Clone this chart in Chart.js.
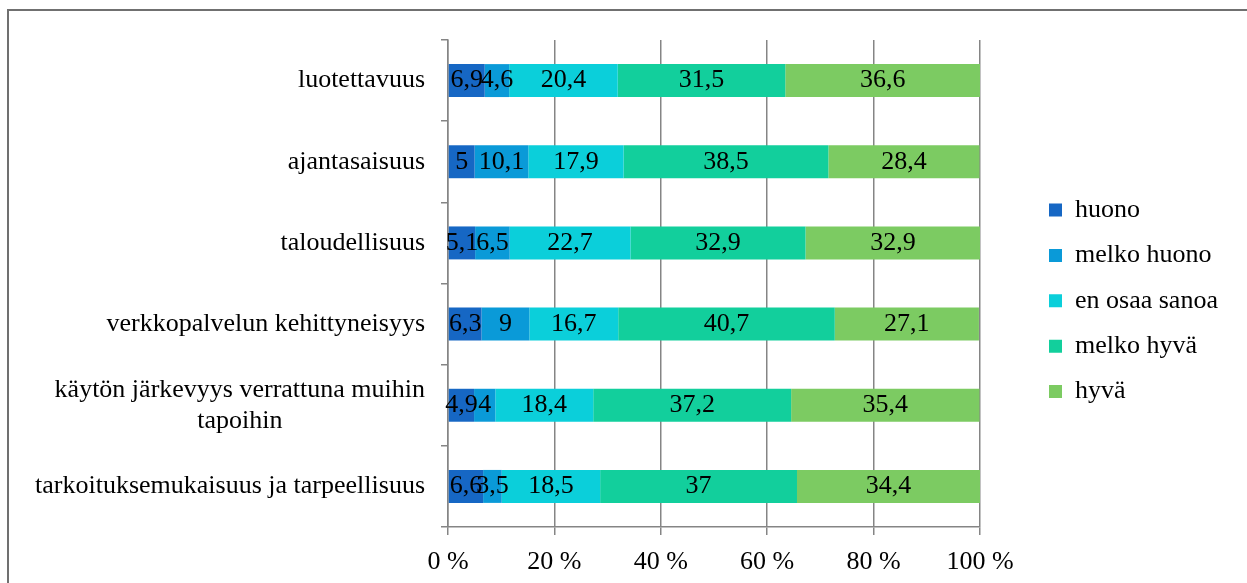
<!DOCTYPE html>
<html lang="fi">
<head>
<meta charset="utf-8">
<title>Arviot verkkopalvelusta</title>
<script src="https://cdn.jsdelivr.net/npm/chart.js@4.4.1/dist/chart.umd.min.js"></script>
<style>
  html, body { margin: 0; padding: 0; background: #fff; overflow: hidden; }
  #frame {
    position: absolute; left: 7px; top: 9px; width: 1400px; height: 800px;
    border-left: 2px solid #707070; border-top: 2px solid #707070;
  }
  #chart { position: absolute; left: 0; top: 0; }
</style>
</head>
<body>
<div id="frame"></div>
<canvas id="chart" width="1247" height="583"></canvas>
<script>
// Arvioitavat ominaisuudet (ylhäältä alas)
const categories = [
  'luotettavuus',
  'ajantasaisuus',
  'taloudellisuus',
  'verkkopalvelun kehittyneisyys',
  ['käytön järkevyys verrattuna muihin', 'tapoihin'],
  'tarkoituksemukaisuus ja tarpeellisuus'
];

// Vastausjakaumat, %
const huono      = [6.9, 5, 5.1, 6.3, 4.9, 6.6];
const melkoHuono = [4.6, 10.1, 6.5, 9, 4, 3.5];
const enOsaa     = [20.4, 17.9, 22.7, 16.7, 18.4, 18.5];
const melkoHyva  = [31.5, 38.5, 32.9, 40.7, 37.2, 37];
const hyva       = [36.6, 28.4, 32.9, 27.1, 35.4, 34.4];

const seriesNames = ['huono', 'melko huono', 'en osaa sanoa', 'melko hyvä', 'hyvä'];
const seriesColors = ['#1667C4', '#0A9AD8', '#0BCFDA', '#12CF9C', '#7CCB62'];

// Akselin asteikko
const xTicks = [0, 20, 40, 60, 80, 100];

const FONT = '"Liberation Serif", "Times New Roman", serif';
const GRID = '#858585';

// Luvut segmenttien keskelle, desimaalipilkulla
const segmentLabels = {
  id: 'segmentLabels',
  afterDatasetsDraw(chart) {
    const ctx = chart.ctx;
    ctx.save();
    ctx.font = '26px ' + FONT;
    ctx.fillStyle = '#000';
    ctx.textAlign = 'center';
    ctx.textBaseline = 'middle';
    chart.data.datasets.forEach((ds, i) => {
      chart.getDatasetMeta(i).data.forEach((bar, j) => {
        const c = bar.getCenterPoint();
        ctx.fillText(String(ds.data[j]).replace('.', ','), c.x, c.y);
      });
    });
    ctx.restore();
  }
};

// Kategorianimet: oikealle tasattu lohko, rivit keskitetty lohkon sisällä
const categoryLabels = {
  id: 'categoryLabels',
  afterDraw(chart) {
    const ctx = chart.ctx;
    const y = chart.scales.y;
    const right = 425;
    const lineH = 31;
    ctx.save();
    ctx.font = '26px ' + FONT;
    ctx.fillStyle = '#000';
    ctx.textAlign = 'center';
    ctx.textBaseline = 'middle';
    categories.forEach((cat, i) => {
      const lines = Array.isArray(cat) ? cat : [cat];
      const widest = Math.max(...lines.map(l => ctx.measureText(l).width));
      const cx = right - widest / 2;
      const cy = y.getPixelForValue(i);
      lines.forEach((l, k) => {
        ctx.fillText(l, cx, cy + (k - (lines.length - 1) / 2) * lineH);
      });
    });
    ctx.restore();
  }
};

const datasets = [huono, melkoHuono, enOsaa, melkoHyva, hyva].map((vals, i) => ({
  label: seriesNames[i],
  data: vals,
  backgroundColor: seriesColors[i],
  borderWidth: 0,
  barPercentage: 0.406,
  categoryPercentage: 1
}));

// Näkymätön apuakseli, joka varaa tyhjää tilaa
const spacer = (axis, position, size) => ({
  type: axis === 'x' ? 'linear' : 'category',
  axis,
  position,
  afterFit(scale) {
    if (axis === 'x') scale.height = size; else scale.width = size;
  },
  grid: { display: false },
  border: { display: false },
  ticks: { display: false }
});

new Chart(document.getElementById('chart'), {
  type: 'bar',
  data: { labels: categories, datasets },
  plugins: [segmentLabels, categoryLabels],
  options: {
    indexAxis: 'y',
    responsive: false,
    animation: false,
    layout: { padding: { top: 18.6, bottom: 0, left: 0, right: 27.4 } },
    scales: {
      x: {
        stacked: true,
        min: 0,
        max: 100,
        afterBuildTicks(scale) { scale.ticks = xTicks.map(v => ({ value: v })); },
        afterFit(scale) { scale.height = 56; },
        grid: { color: GRID, lineWidth: 1.5, tickLength: 8 },
        border: { color: GRID, width: 1.5 },
        ticks: {
          padding: 11.5,
          color: '#000',
          font: { family: FONT, size: 26 },
          callback: v => v + ' %'
        }
      },
      y: {
        stacked: true,
        afterFit(scale) { scale.width = 448; },
        grid: { drawOnChartArea: false, color: GRID, lineWidth: 1.5, tickLength: 7 },
        border: { color: GRID, width: 1.5 },
        ticks: { display: false }
      },
      gapTop: spacer('x', 'top', 21.4),
      gapRight: spacer('y', 'right', 49.6)
    },
    plugins: {
      tooltip: { enabled: false },
      legend: {
        position: 'right',
        maxWidth: 190,
        labels: {
          color: '#000',
          font: { family: FONT, size: 26 },
          boxWidth: 13,
          boxHeight: 13,
          padding: 19.4
        }
      }
    }
  }
});
</script>
</body>
</html>
